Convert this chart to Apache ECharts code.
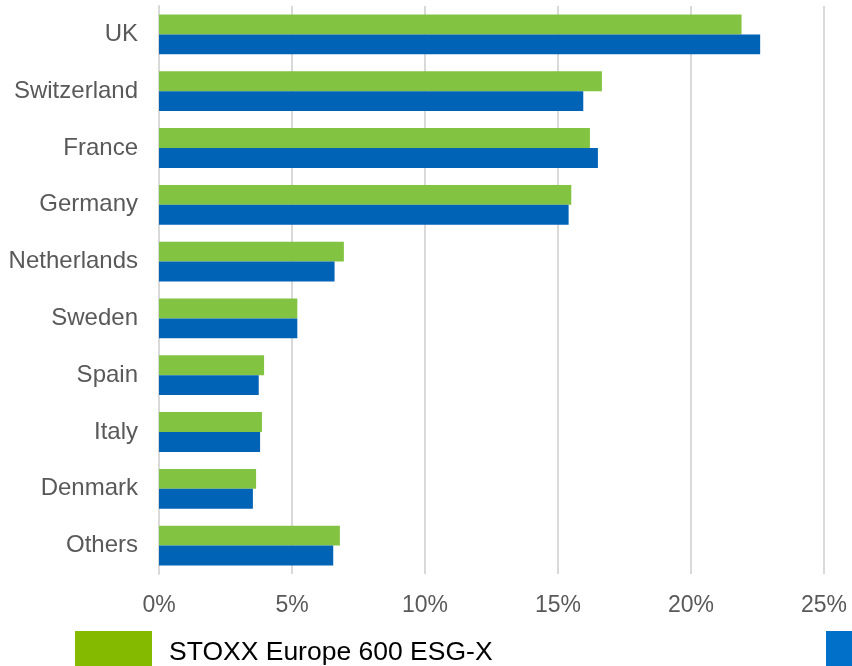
<!DOCTYPE html>
<html>
<head>
<meta charset="utf-8">
<script src="https://cdn.jsdelivr.net/npm/echarts@6/dist/echarts.min.js"></script>
<style>
  html, body { margin: 0; padding: 0; background: #fff; }
  #chart { width: 852px; height: 666px; }
</style>
</head>
<body>
<div id="chart"></div>
<script>
  var countries = ["UK", "Switzerland", "France", "Germany", "Netherlands",
    "Sweden", "Spain", "Italy", "Denmark", "Others"];
  var esgXName = "STOXX Europe 600 ESG-X";
  var benchName = "STOXX Europe 600";
  var esgXWeights = [21.9, 16.65, 16.2, 15.5, 6.95, 5.2, 3.95, 3.87, 3.65, 6.8];
  var benchWeights = [22.6, 15.95, 16.5, 15.4, 6.6, 5.2, 3.75, 3.8, 3.53, 6.55];
  var xTicks = [0, 5, 10, 15, 20, 25];

  var font = "'Liberation Sans', Arial, sans-serif";
  var chart = echarts.init(document.getElementById("chart"));

  // legend boxes sit at the bottom edge and run past it, so one legend per series
  function legendFor(name, color, left) {
    return {
      left: left, top: 631,
      padding: 0,
      itemWidth: 77, itemHeight: 44,
      icon: "rect",
      data: [{ name: name, itemStyle: { color: color } }],
      textStyle: { fontFamily: font, fontSize: 26.5, color: "#000", padding: [0, 0, 0, 12] }
    };
  }

  chart.setOption({
    animation: false,
    grid: { left: 159, right: 28, top: 6, bottom: 92 },
    legend: [
      legendFor(esgXName, "#84BB00", 75),
      legendFor(benchName, "#0070C9", 826)
    ],
    xAxis: {
      type: "value",
      min: xTicks[0],
      max: xTicks[xTicks.length - 1],
      interval: 5,
      axisLine: { show: false },
      axisTick: { show: false },
      splitLine: { lineStyle: { color: "#D9D9D9", width: 2 } },
      axisLabel: {
        formatter: "{value}%",
        margin: 20,
        fontFamily: font,
        fontSize: 23,
        color: "#595959"
      }
    },
    yAxis: {
      type: "category",
      data: countries,
      inverse: true,
      axisLine: { lineStyle: { color: "#D9D9D9", width: 2 } },
      axisTick: { length: 5, lineStyle: { color: "#D9D9D9", width: 2 } },
      axisLabel: {
        margin: 21,
        padding: [4, 0, 0, 0],
        fontFamily: font,
        fontSize: 24,
        color: "#595959"
      }
    },
    series: [
      {
        name: esgXName,
        type: "bar",
        data: esgXWeights,
        barGap: "0%",
        barCategoryGap: "30%",
        itemStyle: { color: "#82C341" }
      },
      {
        name: benchName,
        type: "bar",
        data: benchWeights,
        barGap: "0%",
        barCategoryGap: "30%",
        itemStyle: { color: "#0063B5" }
      }
    ]
  });
</script>
</body>
</html>
